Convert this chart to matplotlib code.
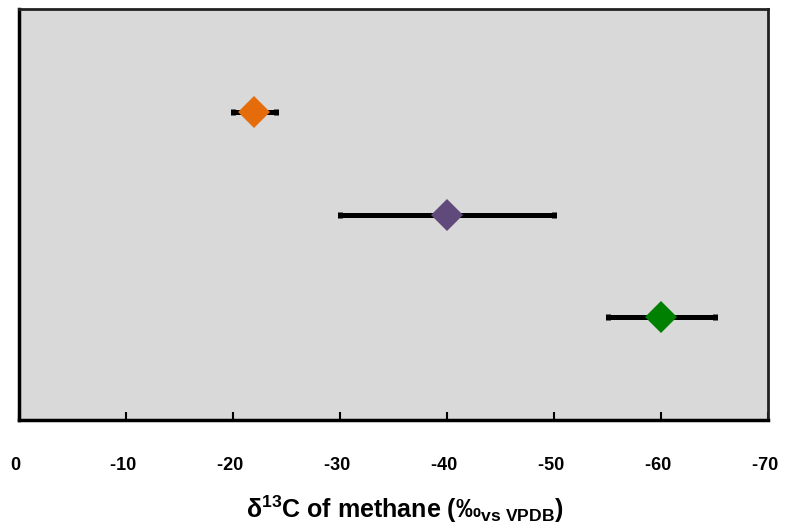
import matplotlib
matplotlib.use("Agg")
import matplotlib.pyplot as plt

# Data
labels = ["A", "B", "C"]
values = [-22, -40, -60]
errors = [2, 10, 5]
ypos = [3, 2, 1]
colors = ["#E46C0A", "#604A7B", "#008000"]
xticks = [0, -10, -20, -30, -40, -50, -60, -70]
xticklabels = ["0\u00a0", "-10\u00a0", "-20\u00a0", "-30\u00a0", "-40\u00a0",
               "-50\u00a0", "-60\u00a0", "-70\u00a0"]

plt.rcParams['font.family'] = ['Liberation Sans', 'DejaVu Sans']
plt.rcParams['mathtext.fontset'] = 'custom'
plt.rcParams['mathtext.rm'] = 'Liberation Sans:bold'
plt.rcParams['mathtext.it'] = 'Liberation Sans:bold'
plt.rcParams['mathtext.bf'] = 'Liberation Sans:bold'

fig = plt.figure(figsize=(8.0, 5.27), dpi=100)
ax = fig.add_axes([19/800, 1-420/527, (768-19)/800, (420-9)/527])
ax.set_facecolor("#D9D9D9")

for v, e, y, c in zip(values, errors, ypos, colors):
    ax.errorbar(v, y, xerr=e, fmt='none', ecolor='black', elinewidth=3.6,
                capsize=2.5, capthick=3.6, zorder=2)
    ax.plot(v, y, marker='D', markersize=16.5, color=c, linestyle='none',
            markeredgewidth=0, zorder=3)

ax.set_xlim(0, -70)
ax.set_ylim(0, 4)
ax.set_yticks([])
ax.set_xticks(xticks)
ax.set_xticklabels(xticklabels, fontsize=13, fontweight='bold')
ax.tick_params(axis='x', direction='in', length=6, width=1.5, pad=27)

for s in ['left', 'bottom']:
    ax.spines[s].set_linewidth(2.5)
    ax.spines[s].set_color('black')
for s in ['top', 'right']:
    ax.spines[s].set_linewidth(2)
    ax.spines[s].set_color('#222222')

ax.set_xlabel('δ$^{13}$C of methane (‰$_{\\mathrm{vs\\ VPDB}}$)',
              fontsize=18, fontweight='bold', labelpad=14)
ax.xaxis.label.set_x(0.515)

fig.savefig("out.png", dpi=100)
